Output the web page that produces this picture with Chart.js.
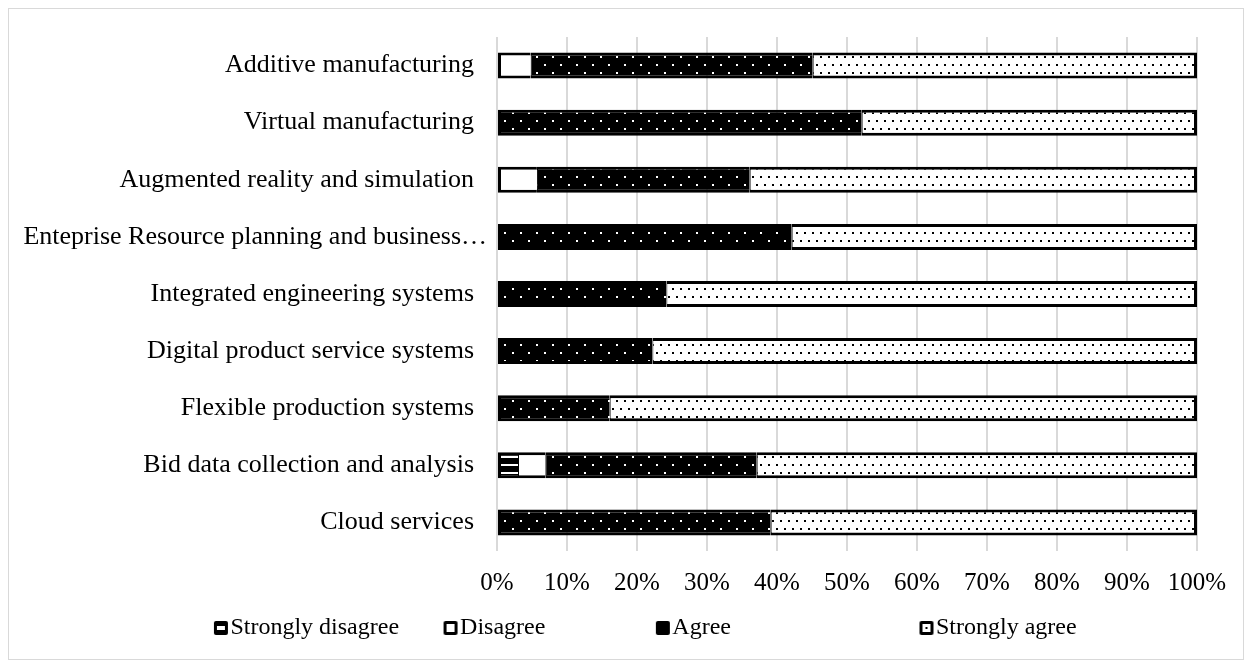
<!DOCTYPE html>
<html><head><meta charset="utf-8">
<script src="https://cdn.jsdelivr.net/npm/chart.js@4.4.1/dist/chart.umd.min.js"></script>
<style>html,body{margin:0;padding:0;background:#fff;}#wrap{position:relative;width:1252px;height:668px;}</style>
</head><body><div id="wrap"><canvas id="c" width="1252" height="668"></canvas></div>
<script>
const categories = ["Additive manufacturing","Virtual manufacturing","Augmented reality and simulation","Enteprise Resource planning and business…","Integrated engineering systems","Digital product service systems","Flexible production systems","Bid data collection and analysis","Cloud services"];
const seriesNames = ["Strongly disagree","Disagree","Agree","Strongly agree"];
const stronglyDisagree = [0,0,0,0,0,0,0,3.0,0];
const disagree = [4.8,0,5.7,0,0,0,0,3.9,0];
const agree = [40.3,52.1,30.4,42.1,24.2,22.2,16.1,30.2,39.1];
const stronglyAgree = [54.9,47.9,63.9,57.9,75.8,77.8,83.9,62.9,60.9];
const xTickValues = [0,10,20,30,40,50,60,70,80,90,100];

const FONT = "'Liberation Serif','Times New Roman',serif";
const LEGEND_SIZE = 24;
const legendSlots = [228, 213, 266];
const legendLead = 94;

const canvas = document.getElementById('c');
const ctx = canvas.getContext('2d');

function tile(w,h,bg,fg,draw){const c=document.createElement('canvas');c.width=w;c.height=h;const g=c.getContext('2d');g.fillStyle=bg;g.fillRect(0,0,w,h);g.fillStyle=fg;draw(g);return c;}
const patSD = ctx.createPattern(tile(8,8,'#000','#fff',g=>g.fillRect(0,0,8,2)),'repeat');
const patA = ctx.createPattern(tile(16,16,'#000','#fff',g=>{g.fillRect(0,0,2,2);g.fillRect(8,8,2,2);}),'repeat');
const patSA = ctx.createPattern(tile(8,16,'#fff','#000',g=>{g.fillRect(0,0,2,2);g.fillRect(4,8,2,2);}),'repeat');

function icon(kind){
  const c=document.createElement('canvas');c.width=22;c.height=16;const g=c.getContext('2d');
  if(kind<0) return c;
  const x=7,y=1,s=14;
  g.fillStyle='#000';
  g.beginPath();g.roundRect(x,y,s,s,2);g.fill();
  g.fillStyle='#fff';
  if(kind===0){g.fillRect(x+3,y+5,s-6,4);}
  if(kind===1){g.fillRect(x+3,y+3,s-6,s-6);}
  if(kind===3){g.fillRect(x+3,y+3,s-6,s-6);g.fillStyle='#000';g.fillRect(x+6,y+6,2,2);}
  return c;
}
const icons=[icon(0),icon(1),icon(2),icon(3)];
const blankIcon=icon(-1);
const allSeries=[stronglyDisagree,disagree,agree,stronglyAgree];
function bw(di){
  return c=>{const i=c.dataIndex;let first=-1,last=-1;
    allSeries.forEach((a,k)=>{if(a[i]>0){if(first<0)first=k;last=k;}});
    return {top:3,bottom:3,left:di===first?3:1,right:di===last?3:0};};
}
const fills=[patSD,'#fff',patA,patSA];
const datasets=allSeries.map((d,k)=>({label:seriesNames[k],data:d,backgroundColor:fills[k],borderColor:'#000',borderWidth:bw(k),borderSkipped:false,barThickness:26,inflateAmount:0}));

function padTo(t,slot){
  ctx.save();ctx.font=LEGEND_SIZE+'px '+FONT;
  const sp=ctx.measureText(' ').width;
  let s=t;const target=slot-1-LEGEND_SIZE/2;
  while(ctx.measureText(s+' ').width<=target+sp/2) s+=' ';
  ctx.restore();return s;
}

const frame={id:'frame',afterDraw(ch){const g=ch.ctx;g.save();g.strokeStyle='#d9d9d9';g.lineWidth=1;g.strokeRect(8.5,8.5,1235,651);g.restore();}};

new Chart(ctx,{type:'bar',data:{labels:categories,datasets},
options:{indexAxis:'y',responsive:false,animation:false,
 layout:{padding:{top:37,right:55,bottom:18,left:0}},
 plugins:{tooltip:{enabled:false},
  legend:{position:'bottom',labels:{usePointStyle:true,pointStyleWidth:1,padding:0,color:'#000',font:{family:FONT,size:LEGEND_SIZE},
   generateLabels:()=>{
     const items=[{text:padTo('',legendLead),pointStyle:blankIcon,fillStyle:'#fff',strokeStyle:'#fff',lineWidth:0,hidden:false,datasetIndex:-1,fontColor:'#000'}];
     seriesNames.forEach((n,i)=>items.push({text:i<legendSlots.length?padTo(n,legendSlots[i]):n,pointStyle:icons[i],fillStyle:'#000',strokeStyle:'#000',lineWidth:0,hidden:false,datasetIndex:i,fontColor:'#000'}));
     return items;}}}},
 scales:{
  x:{stacked:true,min:0,max:100,afterBuildTicks:s=>{s.ticks=xTickValues.map(v=>({value:v}));},
     afterFit:s=>{s.height=65;},
     ticks:{callback:v=>v+'%',color:'#000',font:{family:FONT,size:25},padding:17,maxRotation:0},
     grid:{color:'#d9d9d9',lineWidth:2,drawTicks:false},border:{display:false}},
  y:{stacked:true,afterFit:s=>{s.width=497;},
     ticks:{color:'#000',font:{family:FONT,size:26},padding:2,autoSkip:false,
       callback:function(v){const l=this.getLabelForValue(v);return l.endsWith('…')?l:l+'  ';}},
     grid:{display:false},border:{display:false}}
 }},plugins:[frame]});
</script></body></html>
